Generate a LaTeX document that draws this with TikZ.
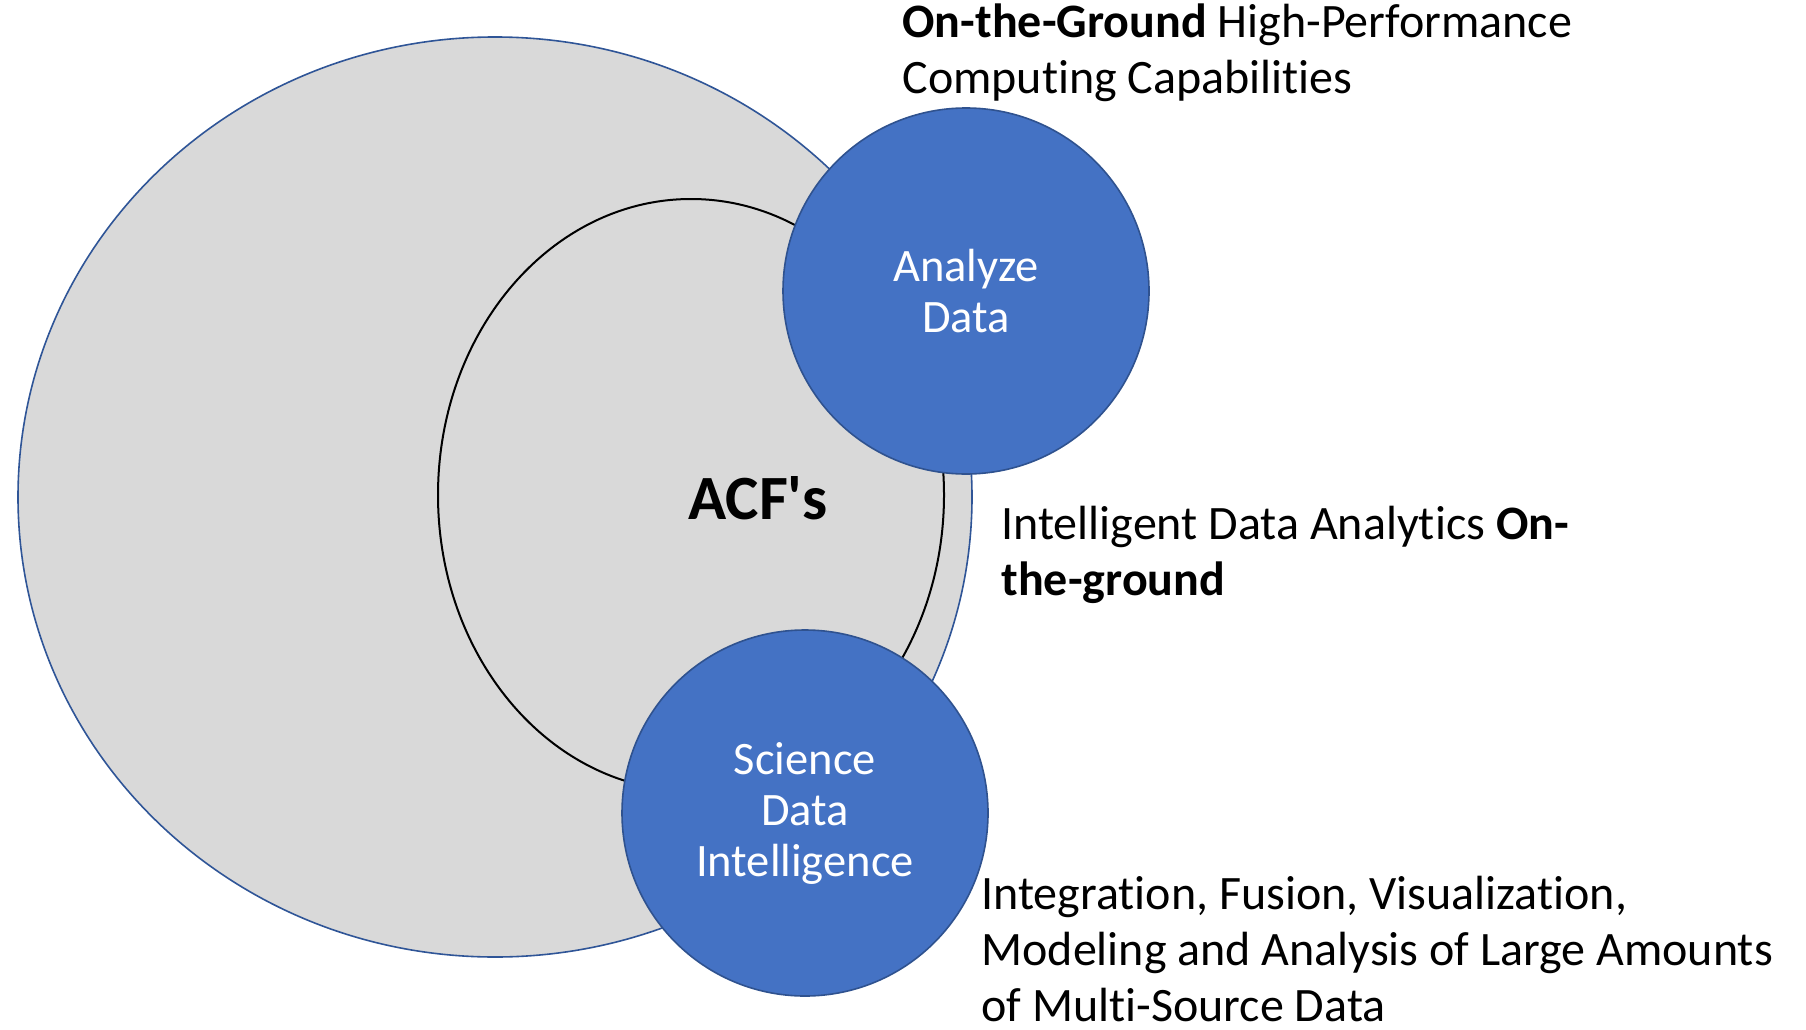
\documentclass[tikz,border=0pt]{standalone}
\usepackage{fontspec}
\setmainfont{Carlito}[Ligatures=NoCommon]
\usetikzlibrary{shapes.geometric}
\definecolor{G1}{RGB}{217,217,217}
\definecolor{B1}{RGB}{68,114,196}
\definecolor{B2}{RGB}{47,82,143}
\definecolor{B3}{RGB}{47,85,151}
\tikzset{
  outerring/.style={ellipse, draw=B3, line width=1.6pt, fill=G1, inner sep=0pt},
  innerring/.style={ellipse, draw=black, line width=2pt, inner sep=0pt},
  bubble/.style={circle, draw=B2, line width=1.6pt, fill=B1, inner sep=0pt,
    minimum size=366pt, text=white, align=center,
    font=\fontsize{46.5}{51}\selectfont},
  note/.style={anchor=base west, align=left,
    font=\fontsize{48}{56}\selectfont}
}
\begin{document}
\begin{tikzpicture}[x=1pt, y=-1pt]
  \useasboundingbox (0,0) rectangle (1806,1030);
  \node[outerring, minimum width=954pt, minimum height=920pt] (acf) at (495,497) {};
  \node[innerring, minimum width=506pt, minimum height=592pt] (core) at (691,495) {};
  \node[font=\fontsize{63}{63}\selectfont\bfseries] (acflabel) at (758,498) {ACF\textquotesingle s};
  \node[bubble] (analyze) at (966,291) {Analyze\\Data};
  \node[bubble] (science) at (805,813) {Science\\Data\\Intelligence};
  % text beside the bubbles (anchored at the last line)
  \node[note] (hpc) at (899,94) {\textbf{On-the-Ground} High-Performance\\Computing Capabilities};
  \node[note] (ida) at (998,595) {Intelligent Data Analytics \textbf{On-}\\\textbf{the-ground}};
  \node[note] (ifv) at (978,1021) {Integration, Fusion, Visualization,\\Modeling and Analysis of Large Amounts\\of Multi-Source Data};
\end{tikzpicture}
\end{document}
